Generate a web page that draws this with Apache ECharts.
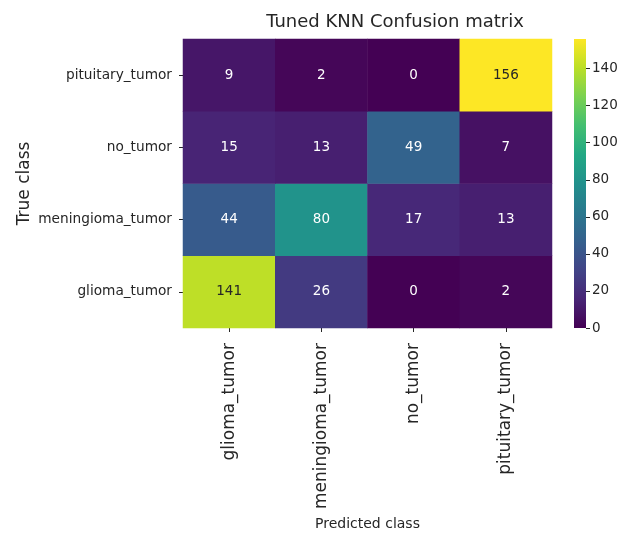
<!DOCTYPE html>
<html><head><meta charset="utf-8">
<script src="https://cdn.jsdelivr.net/npm/echarts@6/dist/echarts.min.js"></script>
<style>html,body{margin:0;padding:0;background:#fff}#c{width:634px;height:536px}</style>
</head><body><div id="c"></div>
<script>
const predictedClasses = ['glioma_tumor','meningioma_tumor','no_tumor','pituitary_tumor'];
const trueClasses = ['glioma_tumor','meningioma_tumor','no_tumor','pituitary_tumor']; // bottom to top
// rows: true class (same order as trueClasses), cols: predicted class
const rowGlioma = [141, 26, 0, 2];
const rowMeningioma = [44, 80, 17, 13];
const rowNoTumor = [15, 13, 49, 7];
const rowPituitary = [9, 2, 0, 156];
const colorbarTicks = [0,20,40,60,80,100,120,140];
const vMin = 0, vMax = 156;

const viridis = ['#440154','#482576','#414487','#35608D','#2A788E','#21908C','#22A884','#43BF71','#7AD151','#BBDF27','#FDE725'];
const rows = [rowGlioma, rowMeningioma, rowNoTumor, rowPituitary];
const data = [];
rows.forEach((r, yi) => r.forEach((v, xi) => {
  data.push({value:[xi, yi, v], label:{color: v > 110 ? '#262626' : '#ffffff'}});
}));
const font = 'DejaVu Sans';
const ink = '#262626';
const chart = echarts.init(document.getElementById('c'), null, {renderer:'canvas'});
chart.setOption({
  animation:false,
  textStyle:{fontFamily:font},
  title:{text:'Tuned KNN Confusion matrix', left:390, top:8, textAlign:'center',
    textStyle:{fontFamily:font, fontSize:18, fontWeight:'normal', color:ink}},
  grid:[
    {left:183, top:39, width:369, height:289, outerBoundsMode:'none', containLabel:false},
    {left:574, top:39, width:12, height:289, outerBoundsMode:'none', containLabel:false}
  ],
  xAxis:[
    {type:'category', gridIndex:0, data:predictedClasses, position:'bottom',
     axisLine:{show:false}, axisTick:{show:true, alignWithLabel:true, length:4, lineStyle:{color:ink}},
     axisLabel:{rotate:90, fontSize:17, color:ink, margin:15, fontFamily:font},
     name:'Predicted class', nameLocation:'middle', nameGap:189, nameMoveOverlap:false,
     nameTextStyle:{fontSize:14, color:ink, fontFamily:font}},
    {type:'category', gridIndex:1, data:['cb'], show:false}
  ],
  yAxis:[
    {type:'category', gridIndex:0, data:trueClasses,
     axisLine:{show:false}, axisTick:{show:true, alignWithLabel:true, length:4, lineStyle:{color:ink}},
     axisLabel:{fontSize:13.7, color:ink, margin:11, fontFamily:font},
     name:'True class', nameLocation:'middle', nameGap:150, nameRotate:90, nameMoveOverlap:false,
     nameTextStyle:{fontSize:17, color:ink, fontFamily:font}},
    {type:'value', gridIndex:1, min:vMin, max:vMax, position:'right',
     splitLine:{show:false}, axisLine:{show:false},
     axisTick:{show:true, length:4, customValues:colorbarTicks, lineStyle:{color:ink}},
     axisLabel:{fontSize:13.5, color:ink, margin:6, customValues:colorbarTicks, fontFamily:font}}
  ],
  visualMap:{show:false, min:vMin, max:vMax, dimension:2, seriesIndex:0, inRange:{color:viridis}},
  series:[
    {type:'heatmap', xAxisIndex:0, yAxisIndex:0, data:data,
     label:{show:true, fontSize:13.5, fontFamily:font},
     itemStyle:{borderWidth:0}},
    {type:'bar', xAxisIndex:1, yAxisIndex:1, data:[vMax], barWidth:'100%', silent:true,
     itemStyle:{color:{type:'linear', x:0, y:1, x2:0, y2:0,
       colorStops: viridis.map((c,i)=>({offset:i/(viridis.length-1), color:c}))}}}
  ]
});
</script></body></html>
